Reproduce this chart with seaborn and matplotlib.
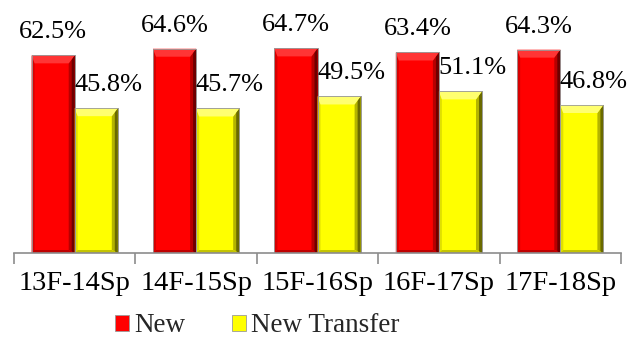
import matplotlib
matplotlib.use("Agg")
import matplotlib.pyplot as plt
import seaborn as sns
import pandas as pd
from matplotlib.patches import Polygon, Patch
from matplotlib.colors import to_hex

# Retention rates by cohort year
terms = ["13F-14Sp", "14F-15Sp", "15F-16Sp", "16F-17Sp", "17F-18Sp"]
new_rate = [62.5, 64.6, 64.7, 63.4, 64.3]
transfer_rate = [45.8, 45.7, 49.5, 51.1, 46.8]
series = ["New", "New Transfer"]

df = pd.DataFrame({
    "term": terms * 2,
    "series": [series[0]] * len(terms) + [series[1]] * len(terms),
    "rate": new_rate + transfer_rate,
})

sns.set_theme(style="white")
plt.rcParams["font.family"] = ["Liberation Serif", "DejaVu Serif"]
FS_VAL, FS_TICK, FS_LEG = 19, 20.5, 19.5

W, H = 638, 339
fig = plt.figure(figsize=(W / 100, H / 100), dpi=100)
ax_l, ax_r, ax_b, ax_t = 14, 621, 253, 0
ax = fig.add_axes([ax_l / W, (H - ax_b) / H, (ax_r - ax_l) / W, (ax_b - ax_t) / H])

base = {"New": "#FF0000", "New Transfer": "#FFFF00"}
sns.barplot(data=df, x="term", y="rate", hue="series", hue_order=series,
            palette=base, width=0.71, saturation=1, ax=ax, legend=False,
            edgecolor="#9A9A9A", linewidth=0.6, errorbar=None)
ax.set_xlim(-0.5, len(terms) - 0.5)
ax.set_ylim(0, 80)

# bevel shading colours per series
shade = {
    "#ff0000": dict(top="#FF3535", left="#D80000", right_in="#B80000", right_out="#6E0000", bottom="#C00000"),
    "#ffff00": dict(top="#FFFF70", left="#E0E000", right_in="#B4B400", right_out="#6A6A00", bottom="#C4C400"),
}

px_x = len(terms) / (ax_r - ax_l)
px_y = 80 / (ax_b - ax_t)
bl, br, bt = 3 * px_x, 6 * px_x, 8 * px_y

bars = [p for p in ax.patches if p.get_height() > 0]
for p in bars:
    x0, w, h = p.get_x(), p.get_width(), p.get_height()
    x1 = x0 + w
    c = shade[to_hex(p.get_facecolor())]
    z = p.get_zorder()
    polys = [
        ([(x1 - br, h - bt), (x1, h), (x1, 0), (x1 - br, 3 * px_y)], c["right_in"]),
        ([(x1 - br / 2, h - bt / 2), (x1, h), (x1, 0), (x1 - br / 2, 1.5 * px_y)], c["right_out"]),
        ([(x0, h), (x0 + bl, h - bt), (x0 + bl, 3 * px_y), (x0, 0)], c["left"]),
        ([(x0, 0), (x0 + bl, 3 * px_y), (x1 - br, 3 * px_y), (x1, 0)], c["bottom"]),
        ([(x0, h), (x1, h), (x1 - br, h - bt), (x0 + bl, h - bt)], c["top"]),
    ]
    for pts, col in polys:
        ax.add_patch(Polygon(pts, closed=True, facecolor=col, edgecolor="none", zorder=z + 0.1))
    ax.add_patch(Polygon([(x0, 0), (x0, h), (x1, h), (x1, 0)], closed=True, fill=False,
                         edgecolor="#9A9A9A", linewidth=0.6, zorder=z + 0.2))

# value labels
for p in bars:
    is_new = to_hex(p.get_facecolor()) == "#ff0000"
    dx = 0 if is_new else 12
    ax.annotate(f"{p.get_height():.1f}%", (p.get_x() + p.get_width() / 2, p.get_height()),
                xytext=(dx, 17), textcoords="offset pixels", ha="center", va="baseline",
                fontsize=FS_VAL, color="black")

# axis styling
for s in ["top", "left", "right"]:
    ax.spines[s].set_visible(False)
ax.spines["bottom"].set_color("#8C8C8C")
ax.spines["bottom"].set_linewidth(1.2)
ax.set_yticks([])
ax.set_xlabel("")
ax.set_ylabel("")
ax.set_xticks(range(len(terms)))
ax.set_xticklabels(terms, fontsize=FS_TICK)
ax.set_xticks([i - 0.5 for i in range(len(terms) + 1)], minor=True)
ax.tick_params(axis="x", which="major", length=0, pad=13, colors="black")
ax.tick_params(axis="x", which="minor", length=8, width=1.2, color="#8C8C8C", bottom=True)

handles = [Patch(facecolor=base[s], edgecolor="#9A9A9A", linewidth=0.6, label=s) for s in series]
fig.legend(handles=handles, loc="center left", bbox_to_anchor=(115 / W, 1 - 326 / H),
           ncol=2, frameon=False, fontsize=FS_LEG, handlelength=0.5, handleheight=0.5,
           handletextpad=0.2, columnspacing=1.75, borderpad=0, borderaxespad=0)

fig.savefig("out.png", dpi=100)
